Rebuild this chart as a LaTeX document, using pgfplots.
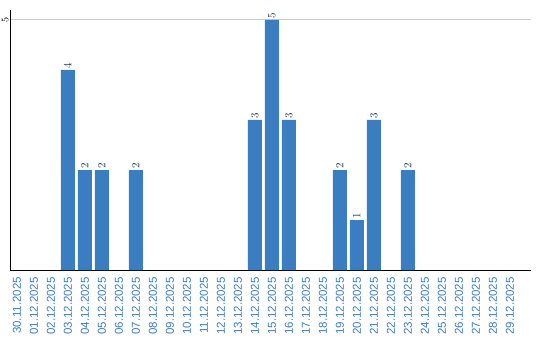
\documentclass[border=0pt]{standalone}
\usepackage{pgfplots}
\pgfplotsset{compat=1.18}
\usepackage{fontspec}
\setmainfont{Liberation Sans}
\definecolor{barblue}{RGB}{59,125,193}
\definecolor{lblblue}{RGB}{58,125,196}
\begin{document}
\begin{tikzpicture}[x=1pt,y=1pt]
\begin{axis}[
  at={(0,0)}, anchor=south west,
  scale only axis, width=520pt, height=260pt,
  xmin=-0.38, xmax=30.21, ymin=0, ymax=5.2,
  axis x line*=bottom, axis y line*=left,
  axis line style={black, line width=1pt},
  ytick={5}, ymajorgrids, grid style={draw=black!20, line width=1pt},
  major tick length=0pt,
  xtick={0,...,29},
  xticklabels={30.11.2025,01.12.2025,02.12.2025,03.12.2025,04.12.2025,05.12.2025,06.12.2025,07.12.2025,08.12.2025,09.12.2025,10.12.2025,11.12.2025,12.12.2025,13.12.2025,14.12.2025,15.12.2025,16.12.2025,17.12.2025,18.12.2025,19.12.2025,20.12.2025,21.12.2025,22.12.2025,23.12.2025,24.12.2025,25.12.2025,26.12.2025,27.12.2025,28.12.2025,29.12.2025},
  xticklabel style={yshift=-6pt, rotate=90, anchor=east, font=\fontsize{11.5}{11.5}\selectfont, text=lblblue, inner sep=1pt},
  yticklabel style={rotate=90, anchor=south, font=\fontsize{10}{10}\selectfont, text=black, inner sep=2pt},
  ybar, bar width=14pt,
  nodes near coords,
  nodes near coords style={rotate=90, anchor=west, font=\fontsize{11}{11}\selectfont, text=black!55!lblblue, inner sep=1.5pt},
  clip=false,
]
\addplot[fill=barblue, draw=none] coordinates {
  (3,4) (4,2) (5,2) (7,2) (14,3) (15,5) (16,3) (19,2) (20,1) (21,3) (23,2)
};
\end{axis}
\pgfresetboundingbox
\useasboundingbox (-10.5,-70) rectangle (529.5,270);
\end{tikzpicture}
\end{document}
